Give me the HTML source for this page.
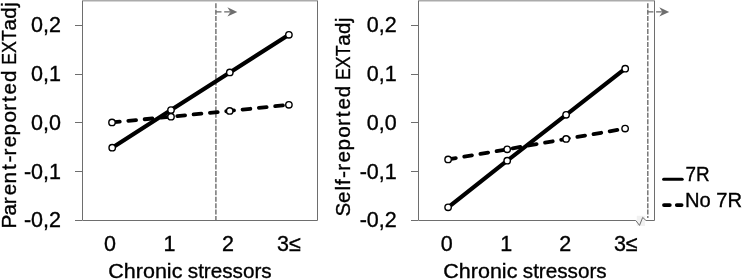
<!DOCTYPE html>
<html>
<head>
<meta charset="utf-8">
<title>Chronic stressors chart</title>
<style>
html,body{margin:0;padding:0;background:#fff;}
body{width:742px;height:279px;overflow:hidden;}
svg{display:block;}
text{font-family:"Liberation Sans",sans-serif;font-size:20.7px;fill:#000;stroke:#000;stroke-width:0.35px;}
.tk{font-size:21.5px;}
.ax{stroke:#6e6e6e;stroke-width:1;fill:none;}
.top{stroke:#ababab;stroke-width:1.5;fill:none;}
.vd{stroke:#727272;stroke-width:1.45;stroke-dasharray:5 1.45;fill:none;}
.sol{stroke:#000;stroke-width:4.2;fill:none;stroke-linejoin:round;}
.das{stroke:#000;stroke-width:3.8;fill:none;stroke-dasharray:7.8 8.6;stroke-linecap:round;stroke-linejoin:round;}
.mk circle{fill:#fff;stroke:#000;stroke-width:1.4;}
.arr{stroke:#6a6a6a;stroke-width:1.3;stroke-dasharray:5.8 2.7;fill:none;}
.ah{fill:#6e6e6e;}
</style>
</head>
<body>
<svg width="742" height="279" viewBox="0 0 742 279">
<rect width="742" height="279" fill="#fff"/>

<!-- LEFT PLOT -->
<g>
  <path class="top" d="M82 0.75H318"/>
  <path class="ax" d="M82.5 1V220.5H317.5V1"/>
  <path class="ax" d="M75 25.5H82M75 74.5H82M75 122.5H82M75 171.5H82M75 220.5H82"/>
  <path class="vd" d="M215.9 3.2V220"/>
  <path class="arr" d="M215.7 11.9H230.2"/>
  <path class="ah" d="M237.3 11.9L227.4 7.3L230.4 11.9L227.4 16.5Z"/>
  <path class="das" d="M112 122.4L171 116.7L229.7 110.9L288.9 104.8"/>
  <path class="sol" d="M112.2 147.7L171 110.1L229.8 72.4L288.9 34.8"/>
  <g class="mk">
    <circle cx="112" cy="122.4" r="3.2"/><circle cx="171" cy="116.7" r="3.2"/><circle cx="229.7" cy="110.9" r="3.2"/><circle cx="288.9" cy="104.8" r="3.2"/>
    <circle cx="112.2" cy="147.7" r="3.2"/><circle cx="171" cy="110.1" r="3.2"/><circle cx="229.8" cy="72.4" r="3.2"/><circle cx="288.9" cy="34.8" r="3.2"/>
  </g>
  <text class="tk" x="61" y="32" text-anchor="end">0,2</text>
  <text class="tk" x="61" y="80.5" text-anchor="end">0,1</text>
  <text class="tk" x="61" y="129.5" text-anchor="end">0,0</text>
  <text class="tk" x="61" y="178.6" text-anchor="end">-0,1</text>
  <text class="tk" x="61" y="227.3" text-anchor="end">-0,2</text>
  <text x="110" class="tk" y="250.6" text-anchor="middle">0</text>
  <text x="169.4" class="tk" y="250.6" text-anchor="middle">1</text>
  <text x="228" class="tk" y="250.6" text-anchor="middle">2</text>
  <text x="289" class="tk" y="250.6" text-anchor="middle">3≤</text>
  <text y="277.6"><tspan x="108.3" textLength="74.1" lengthAdjust="spacingAndGlyphs">Chronic</tspan> <tspan x="187.8" textLength="83.8" lengthAdjust="spacingAndGlyphs">stressors</tspan></text>
  <text transform="translate(16.1 226.6) rotate(-90)"><tspan x="-1.9 11.2 22.3 31.4 43.0 56.5 64.2 71.1 79.4 91.2 104.0 115.8 124.6 132.2 144.5">Parent-reported</tspan> <tspan x="161.85" textLength="34.46" lengthAdjust="spacingAndGlyphs">EXT</tspan><tspan x="196.0 207.9 219.5">adj</tspan></text>
</g>

<!-- RIGHT PLOT -->
<g>
  <path class="top" d="M418 0.75H655"/>
  <rect x="636.8" y="215.8" width="8.2" height="10.2" fill="#f1f1f1"/>
  <path class="ax" d="M418.5 1V220.5H635.8L639.5 225.4L642.7 217.4L646 220.5H654.5V1"/>
  <path class="ax" d="M411 25.5H418M411 74.5H418M411 122.5H418M411 171.5H418M411 220.5H418"/>
  <path class="vd" d="M647.8 3.2V218"/>
  <path class="arr" d="M647.6 11.9H662.1"/>
  <path class="ah" d="M669.2 11.9L659.3 7.3L662.3 11.9L659.3 16.5Z"/>
  <path class="das" d="M448.1 159.4L507.2 149.3L566.1 138.9L625.1 128.6"/>
  <path class="sol" d="M448.1 207.3L507.2 160.7L566.1 114.8L625.2 68.7"/>
  <g class="mk">
    <circle cx="448.1" cy="159.4" r="3.2"/><circle cx="507.2" cy="149.3" r="3.2"/><circle cx="566.1" cy="138.9" r="3.2"/><circle cx="625.1" cy="128.6" r="3.2"/>
    <circle cx="448.1" cy="207.3" r="3.2"/><circle cx="507.2" cy="160.7" r="3.2"/><circle cx="566.1" cy="114.8" r="3.2"/><circle cx="625.2" cy="68.7" r="3.2"/>
  </g>
  <text class="tk" x="396.7" y="32" text-anchor="end">0,2</text>
  <text class="tk" x="396.7" y="80.5" text-anchor="end">0,1</text>
  <text class="tk" x="396.7" y="129.5" text-anchor="end">0,0</text>
  <text class="tk" x="396.7" y="178.6" text-anchor="end">-0,1</text>
  <text class="tk" x="396.7" y="227.3" text-anchor="end">-0,2</text>
  <text x="446.7" class="tk" y="250.6" text-anchor="middle">0</text>
  <text x="506.3" class="tk" y="250.6" text-anchor="middle">1</text>
  <text x="565.2" class="tk" y="250.6" text-anchor="middle">2</text>
  <text x="625.8" class="tk" y="250.6" text-anchor="middle">3≤</text>
  <text y="277.6"><tspan x="443.3" textLength="74.1" lengthAdjust="spacingAndGlyphs">Chronic</tspan> <tspan x="522.8" textLength="83.8" lengthAdjust="spacingAndGlyphs">stressors</tspan></text>
  <text transform="translate(350.4 214.5) rotate(-90)"><tspan x="-1.9 11.5 24.1 29.5 36.5 43.8 52.1 63.9 76.7 88.5 97.3 104.9 117.2">Self-reported</tspan> <tspan x="134.55" textLength="34.46" lengthAdjust="spacingAndGlyphs">EXT</tspan><tspan x="168.7 180.6 192.2">adj</tspan></text>
</g>

<!-- LEGEND -->
<g>
  <path d="M663.6 179.2H682.2" stroke="#000" stroke-width="3" stroke-linecap="round" fill="none"/>
  <path d="M664 205.1H669.8M676.8 205.1H681.6" stroke="#000" stroke-width="3.8" stroke-linecap="round" fill="none"/>
  <text x="685.6" y="181.4" textLength="24.1" lengthAdjust="spacingAndGlyphs">7R</text>
  <text x="684.9" y="206.8" textLength="57.1" lengthAdjust="spacingAndGlyphs">No 7R</text>
</g>
</svg>
</body>
</html>
